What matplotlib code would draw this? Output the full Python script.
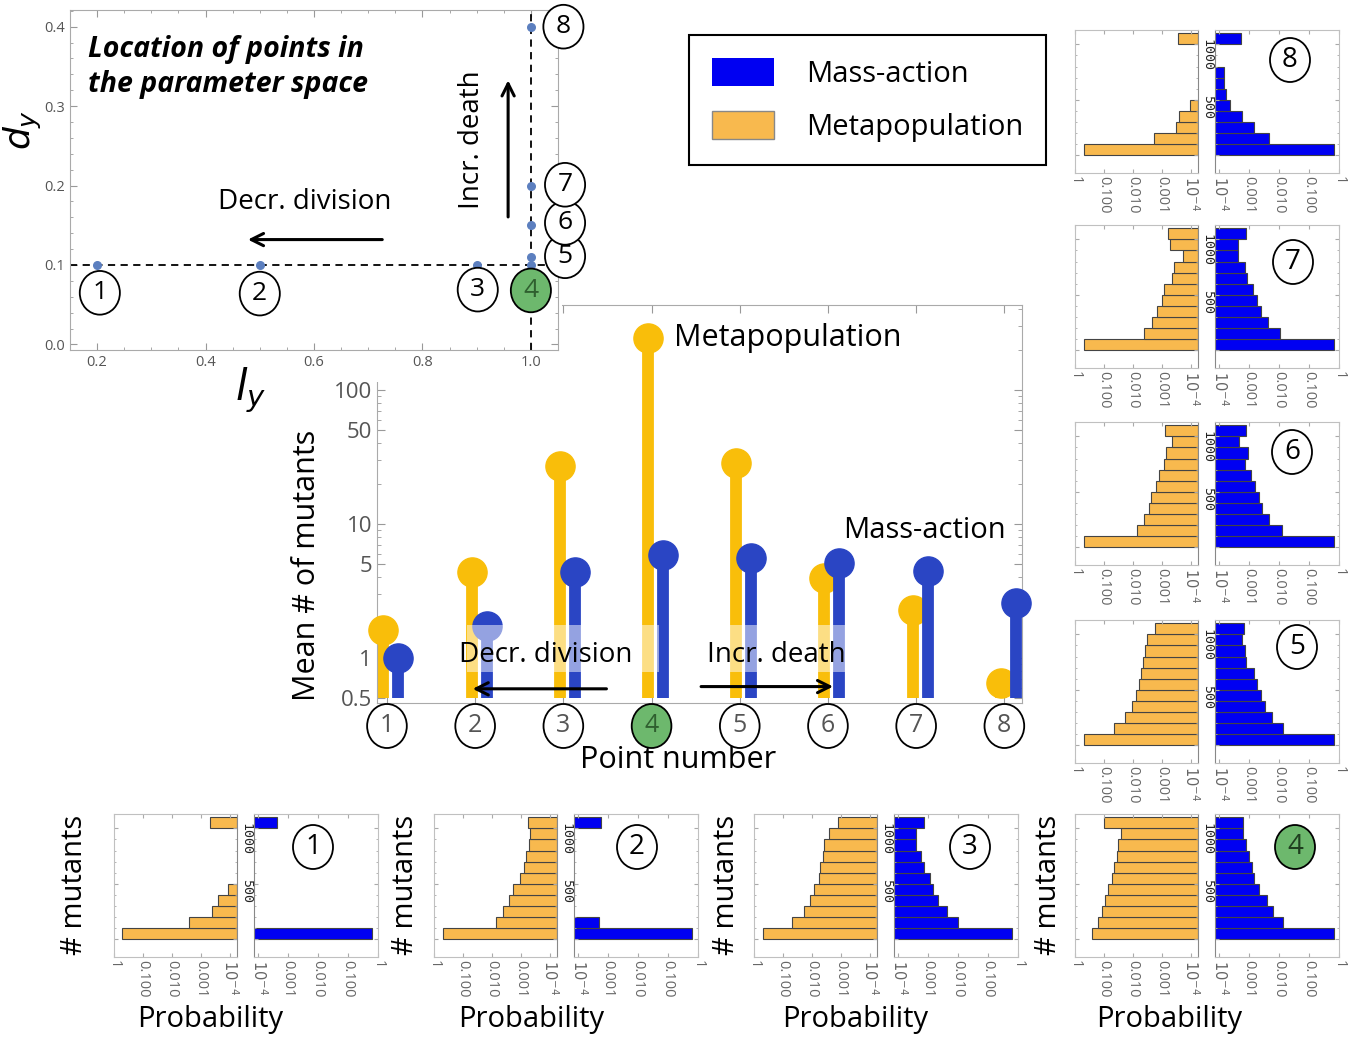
import numpy as np
import matplotlib.pyplot as plt
from matplotlib.patches import Ellipse, Patch, Rectangle
from matplotlib.transforms import blended_transform_factory

plt.rcParams['font.family'] = ['Open Sans', 'DejaVu Sans']
plt.rcParams['mathtext.fontset'] = 'dejavusans'

W, H = 1359, 1041

META = '#F9BE0A'
MASS = '#2A45C4'
META_BAR = '#F8B94E'
MASS_BAR = '#0000F2'
GREEN = '#6DB86D'
GRAY = '#555555'

# location of the 8 points in the (l_y, d_y) plane
ly = [0.2, 0.5, 0.9, 1.0, 1.0, 1.0, 1.0, 1.0]
dy = [0.1, 0.1, 0.1, 0.1, 0.11, 0.15, 0.2, 0.4]

# mean number of mutants per point
point_number = [1, 2, 3, 4, 5, 6, 7, 8]
mean_meta = [1.62, 4.4, 27, 245, 28.5, 3.95, 2.28, 0.65]
mean_mass = [1.0, 1.73, 4.4, 5.9, 5.6, 5.1, 4.46, 2.57]

# histograms of # mutants (bins of 100), probability per bin, 0 = empty
mutant_bins = [0, 100, 200, 300, 400, 500, 600, 700, 800, 900, 1000]
meta_1 = [0.52, 0.00247, 0.000405, 0.000254, 0.000117, 0, 0, 0, 0, 0, 0.00047]
mass_1 = [0.63, 0, 0, 0, 0, 0, 0, 0, 0, 0, 0.000425]
meta_2 = [0.5, 0.0070, 0.00415, 0.0026, 0.00177, 0.00103, 0.00079, 0.00064, 0.00052, 0.00048, 0.00055]
mass_2 = [0.63, 0.00049, 0, 0, 0, 0, 0, 0, 0, 0, 0.00056]
meta_3 = [0.5, 0.047, 0.018, 0.0114, 0.0083, 0.0057, 0.0051, 0.0042, 0.0037, 0.0025, 0.0012]
mass_3 = [0.63, 0.0101, 0.0042, 0.0022, 0.0015, 0.00117, 0.00072, 0.00059, 0.00038, 0.0004, 0.0007]
meta_4 = [0.26, 0.163, 0.12, 0.092, 0.07, 0.051, 0.045, 0.035, 0.032, 0.025, 0.103]
mass_4 = [0.667, 0.0134, 0.0063, 0.0038, 0.0022, 0.0015, 0.00126, 0.00098, 0.00076, 0.00064, 0.00064]
meta_5 = [0.5, 0.045, 0.019, 0.011, 0.0077, 0.006, 0.0051, 0.0043, 0.0037, 0.0031, 0.0017]
mass_5 = [0.667, 0.0134, 0.0059, 0.0034, 0.0025, 0.00185, 0.00144, 0.00076, 0.0007, 0.00056, 0.00067]
meta_6 = [0.5, 0.0073, 0.004, 0.0027, 0.0024, 0.0016, 0.00126, 0.00083, 0.00071, 0.00045, 0.00075]
mass_6 = [0.667, 0.0121, 0.0047, 0.0026, 0.0022, 0.0016, 0.00117, 0.0007, 0.00091, 0.00046, 0.0008]
meta_7 = [0.5, 0.0042, 0.0021, 0.0014, 0.00097, 0.00083, 0.00043, 0.00037, 0.000186, 0.00052, 0.00058]
mass_7 = [0.667, 0.0104, 0.0042, 0.0024, 0.00176, 0.0013, 0.00086, 0.0007, 0.00043, 0.00043, 0.0008]
meta_8 = [0.5, 0.0019, 0.00031, 0.00025, 0.000108, 0, 0, 0, 0, 0, 0.00027]
mass_8 = [0.667, 0.0045, 0.00144, 0.00059, 0.00023, 0.00017, 0.000139, 0.000139, 0, 0, 0.00052]

prob_ticks = [1, 0.1, 0.01, 0.001, 1e-4]
prob_labels = ['1', '0.100', '0.010', '0.001', '$10^{-4}$']


def fig_rect(left, top, width, height):
    # pixel box (from top-left) -> figure fraction
    return [left / W, 1 - (top + height) / H, width / W, height / H]


def circled(artist_parent, x, y, label, w, h, transform, fill='white',
            color='black', size=20, zorder=6):
    e = Ellipse((x, y), w, h, transform=transform, facecolor=fill,
                edgecolor='black', lw=1.3, clip_on=False, zorder=zorder)
    artist_parent.add_artist(e)
    artist_parent.text(x, y, label, transform=transform, ha='center',
                       va='center', fontsize=size, color=color,
                       zorder=zorder + 1, clip_on=False)


fig = plt.figure(figsize=(W / 100, H / 100), dpi=100)

# ---------------- central lollipop chart ----------------
ax = fig.add_axes(fig_rect(377, 305, 645, 398), zorder=0)
ax.set_yscale('log')
ax.set_ylim(0.46, 430)
ax.set_xlim(0.887, 8.2)
x = np.array(point_number)
ax.vlines(x - 0.04, 0.5, mean_meta, color=META, lw=8.5, zorder=2)
ax.plot(x - 0.04, mean_meta, 'o', color=META, ms=21, zorder=3,
        clip_on=False)
ax.vlines(x + 0.13, 0.5, mean_mass, color=MASS, lw=8.5, zorder=4)
ax.plot(x + 0.13, mean_mass, 'o', color=MASS, ms=21, zorder=5,
        clip_on=False)

ax.set_yticks([0.5, 1, 5, 10, 50, 100])
ax.set_yticklabels(['0.5', '1', '5', '10', '50', '100'])
ax.set_xticks(point_number)
ax.set_xticklabels([])
ax.tick_params(which='both', direction='in', top=True, right=True,
               color='#999999', labelcolor=GRAY, labelsize=16)
ax.tick_params(which='major', length=6)
ax.tick_params(which='minor', length=3)
for s in ax.spines.values():
    s.set_color('#aaaaaa')
ax.set_ylabel('Mean # of mutants', fontsize=22, va='center')
ax.yaxis.set_label_coords(-0.108, 0.347)
ax.set_xlabel('Point number', fontsize=22, va='center')
ax.xaxis.set_label_coords(0.467, -0.143)

ax.text(4.25, 245, 'Metapopulation', fontsize=22, va='center', zorder=6)
ax.text(6.17, 8.87, 'Mass-action', fontsize=21, va='center', zorder=6)

# translucent bands behind the arrow captions
ax.add_patch(Rectangle((1.903, 0.786), 2.177, 0.977, fc='white', alpha=0.5,
                       ec='none', zorder=6))
ax.add_patch(Rectangle((4.534, 0.786), 1.727, 0.977, fc='white', alpha=0.5,
                       ec='none', zorder=6))
ax.text(2.795, 1.05, 'Decr. division', fontsize=20, ha='center',
        va='center', zorder=7)
ax.text(5.415, 1.05, 'Incr. death', fontsize=20, ha='center',
        va='center', zorder=7)
arrow = dict(arrowstyle='->', lw=2.2, color='black', mutation_scale=22)
ax.annotate('', xy=(1.94, 0.587), xytext=(3.52, 0.587), arrowprops=arrow,
            zorder=8)
ax.annotate('', xy=(6.09, 0.61), xytext=(4.53, 0.61), arrowprops=arrow,
            zorder=8)

blend = blended_transform_factory(ax.transData, fig.transFigure)
for n in point_number:
    is4 = n == 4
    circled(ax, n, 1 - 726 / H, str(n), 0.45, 44 / H, blend,
            fill=GREEN if is4 else 'white',
            color='#2f5f2f' if is4 else GRAY, size=18)

# white backdrop of the pasted parameter-space panel
fig.add_artist(Rectangle((0, 1 - 382 / H), 562 / W, 382 / H,
                         transform=fig.transFigure, fc='white', ec='none',
                         zorder=1))

# ---------------- parameter space ----------------
ax0 = fig.add_axes(fig_rect(70, 10, 488, 340), zorder=2)
ax0.set_xlim(0.15, 1.05)
ax0.set_ylim(-0.007, 0.421)
ax0.axhline(0.1, ls='--', color='black', lw=1.3, dashes=(4, 3))
ax0.axvline(1.0, ls='--', color='black', lw=1.3, dashes=(4, 3))
ax0.scatter(ly, dy, s=30, color='#5C7FBF', zorder=3)
ax0.set_xticks([0.2, 0.4, 0.6, 0.8, 1.0])
ax0.set_yticks([0.0, 0.1, 0.2, 0.3, 0.4])
ax0.set_xticklabels(['0.2', '0.4', '0.6', '0.8', '1.0'])
ax0.set_yticklabels(['0.0', '0.1', '0.2', '0.3', '0.4'])
ax0.minorticks_on()
ax0.tick_params(which='both', direction='in', top=True, right=True,
                color='#999999', labelcolor=GRAY, labelsize=10.5)
ax0.tick_params(which='major', length=5)
ax0.tick_params(which='minor', length=2.5)
for s in ax0.spines.values():
    s.set_color('#aaaaaa')
ax0.set_xlabel('$l_y$', fontsize=30, va='center')
ax0.xaxis.set_label_coords(0.369, -0.118)
ax0.set_ylabel('$d_y$', fontsize=26, va='center')
ax0.yaxis.set_label_coords(-0.097, 0.647)

ax0.text(0.183, 0.39, 'Location of points in\nthe parameter space',
         fontsize=20.5, fontweight='bold', style='italic', va='top',
         linespacing=1.3)
ax0.text(0.583, 0.179, 'Decr. division', fontsize=20, ha='center',
         va='center')
ax0.annotate('', xy=(0.473, 0.132), xytext=(0.731, 0.132), arrowprops=arrow)
ax0.text(0.891, 0.258, 'Incr. death', fontsize=20, ha='center',
         va='center', rotation=90)
ax0.annotate('', xy=(0.958, 0.336), xytext=(0.958, 0.157), arrowprops=arrow)

label_pos = [(0.205, 0.065), (0.5, 0.064), (0.902, 0.069), (1.0, 0.068),
             (1.063, 0.111), (1.063, 0.153), (1.063, 0.201), (1.06, 0.4)]
for n, (px, py) in zip(point_number, label_pos):
    is4 = n == 4
    circled(ax0, px, py, str(n), 0.074, 0.055, ax0.transData,
            fill=GREEN if is4 else 'white',
            color='#2f5f2f' if is4 else 'black', size=19)

# ---------------- legend ----------------
leg = fig.legend(handles=[Patch(fc=MASS_BAR, ec='none', label='Mass-action'),
                          Patch(fc=META_BAR, ec='#888888', label='Metapopulation')],
                 loc='upper left', bbox_to_anchor=(689 / W, 1 - 35 / H),
                 bbox_transform=fig.transFigure, fontsize=21, frameon=True,
                 fancybox=False, edgecolor='black', framealpha=1,
                 handlelength=2.1, handleheight=1.1, handletextpad=1.1,
                 labelspacing=0.75, borderpad=0.8, borderaxespad=0)
leg.get_frame().set_linewidth(1.5)


# ---------------- histogram panels ----------------
def hist_panel(n, left, top, meta, mass, circle_xy):
    ax_m = fig.add_axes(fig_rect(left, top, 123, 143))
    ax_b = fig.add_axes(fig_rect(left + 140, top, 124, 143))
    y = np.array(mutant_bins) + 50
    for a, probs, color, lo in ((ax_m, meta, META_BAR, 5.5e-5),
                                (ax_b, mass, MASS_BAR, 7.2e-5)):
        probs = np.array(probs, float)
        keep = probs > 0
        a.barh(y[keep], probs[keep] - lo, left=lo, height=100, color=color,
               edgecolor='#444444', linewidth=0.8)
        a.set_xscale('log')
        a.set_ylim(-160, 1130)
        a.set_xticks(prob_ticks)
        a.set_xticklabels(prob_labels)
        a.set_yticks([0, 500, 1000])
        a.set_yticks(mutant_bins, minor=True)
        a.tick_params(which='both', direction='in', top=True, right=True,
                      color='#aaaaaa', labelcolor='#666666', labelsize=10.5)
        a.tick_params(axis='x', labelrotation=-90, pad=2)
        a.tick_params(which='major', length=3)
        a.tick_params(which='minor', length=1.5)
        for s in a.spines.values():
            s.set_color('#c0c0c0')
    ax_m.set_xlim(1, 5.5e-5)
    ax_b.set_xlim(7.2e-5, 1)
    ax_m.spines['right'].set_color('#888888')
    ax_b.spines['left'].set_color('#888888')
    ax_m.tick_params(axis='y', labelleft=False)
    ax_b.set_yticklabels(['', '500', '1000'])
    ax_b.tick_params(axis='y', labelrotation=-90, labelcolor='#222222',
                     labelsize=9.5, pad=1)
    for lbl in ax_b.get_yticklabels():
        lbl.set_fontfamily('DejaVu Sans Mono')
    cx, cy = circle_xy
    circled(fig, cx / W, 1 - cy / H, str(n), 40 / W, 44 / H, fig.transFigure,
            fill=GREEN if n == 4 else 'white',
            color='#1f3f1f' if n == 4 else 'black', size=20)


panels = [
    (1, 114, 814, meta_1, mass_1, (313, 847)),
    (2, 434, 814, meta_2, mass_2, (637, 847)),
    (3, 754, 814, meta_3, mass_3, (970, 847)),
    (4, 1075, 814, meta_4, mass_4, (1295, 847)),
    (5, 1075, 620, meta_5, mass_5, (1297, 647)),
    (6, 1075, 422, meta_6, mass_6, (1292, 452)),
    (7, 1075, 225, meta_7, mass_7, (1293, 262)),
    (8, 1075, 30, meta_8, mass_8, (1290, 60)),
]
for p in panels:
    hist_panel(*p)

for xm in [75, 405, 727, 1048]:
    fig.text(xm / W, 1 - 885 / H, '# mutants', rotation=90, fontsize=21,
             ha='center', va='center')
for xp in [210, 531, 855, 1169]:
    fig.text(xp / W, 1 - 1020 / H, 'Probability', fontsize=21,
             ha='center', va='center')

fig.savefig('out.png', dpi=100)
